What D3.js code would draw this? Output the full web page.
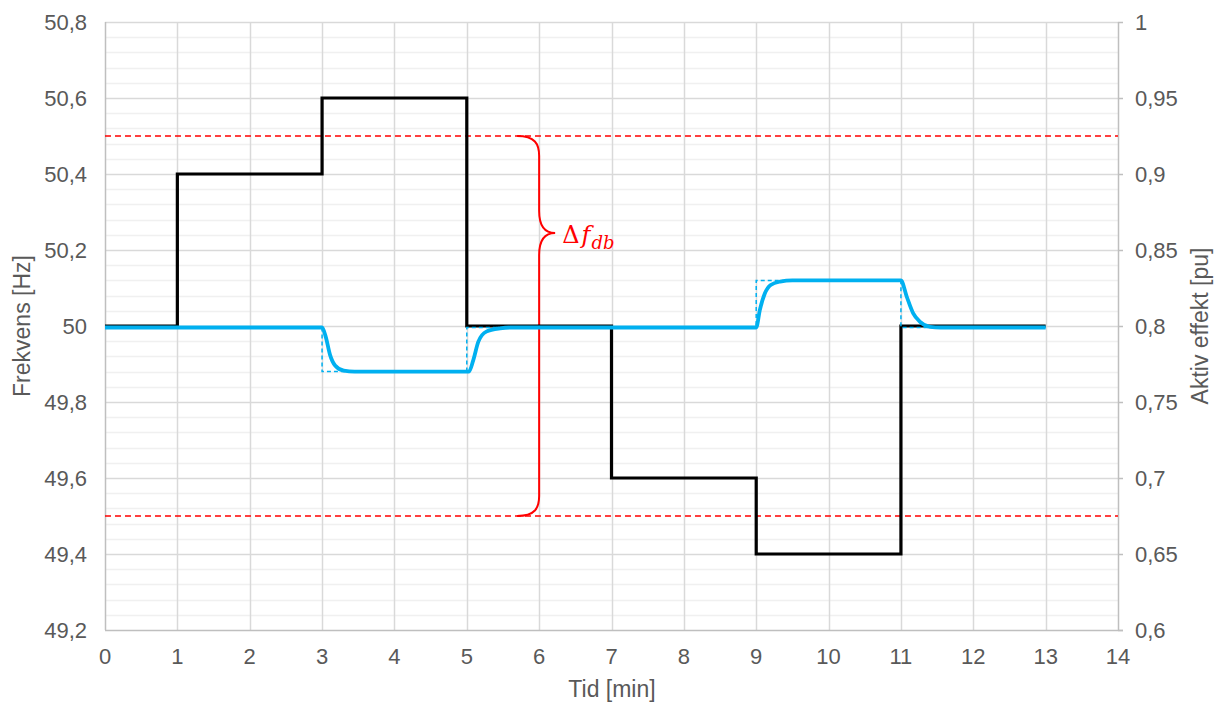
<!DOCTYPE html>
<html><head><meta charset="utf-8">
<script src="https://cdn.jsdelivr.net/npm/d3@7"></script>
<style>
html,body{margin:0;padding:0;background:#fff;}
svg{display:block;font-family:"Liberation Sans",Arial,sans-serif;}
</style></head>
<body>
<svg id="chart" width="1215" height="702"></svg>
<script>
// ---- data ----
const freqTime  = [0, 1, 3, 5, 7, 9, 11, 13];
const freqValue = [50, 50.4, 50.6, 50, 49.6, 49.4, 50, 50];

const refTime  = [0, 3, 5, 9, 11, 13];
const refPower = [0.799, 0.77, 0.799, 0.83, 0.799, 0.799];

const powTime  = [0, 3, 3.05, 3.11, 3.18, 3.3, 3.45, 5.03, 5.09, 5.16, 5.27, 5.46, 5.6,
                  9, 9.05, 9.12, 9.2, 9.33, 9.5, 11, 11.08, 11.17, 11.26, 11.4, 11.55, 13];
const powValue = [0.799, 0.799, 0.793, 0.781, 0.774, 0.7706, 0.77, 0.77, 0.7776, 0.7897, 0.7963, 0.7985, 0.799,
                  0.799, 0.8105, 0.8215, 0.827, 0.8292, 0.83, 0.83, 0.8193, 0.8083, 0.8029, 0.7995, 0.799, 0.799];

const deadband = [49.5, 50.5];
const xTicks = [0,1,2,3,4,5,6,7,8,9,10,11,12,13,14];
const leftTicks = [49.2, 49.4, 49.6, 49.8, 50, 50.2, 50.4, 50.6, 50.8];
const rightTicks = [0.6, 0.65, 0.7, 0.75, 0.8, 0.85, 0.9, 0.95, 1];
const braceX = 6, braceTipF = 50.245;
const labels = {x: "Tid [min]", yl: "Frekvens [Hz]", yr: "Aktiv effekt [pu]"};

// ---- layout ----
const L = 105, R = 1118, T = 22, B = 630;
const svg = d3.select("#chart");
const x = d3.scaleLinear().domain([0, 14]).range([L, R]);
const yL = d3.scaleLinear().domain([49.2, 50.8]).range([B, T]);
const yR = d3.scaleLinear().domain([0.6, 1]).range([B, T]);
const fmt = v => String(+v.toFixed(2)).replace(".", ",");
const tickColor = "#595959";

// minor gridlines
const minor = d3.range(0, 41).map(i => 49.2 + i * 0.04).filter((v, i) => i % 5 !== 0);
svg.append("g").selectAll("line").data(minor).join("line")
  .attr("x1", L).attr("x2", R)
  .attr("y1", d => Math.round(yL(d)) + 0.5).attr("y2", d => Math.round(yL(d)) + 0.5)
  .attr("stroke", "#f0f0f0").attr("stroke-width", 1.5);
// major horizontal
svg.append("g").selectAll("line").data(leftTicks.slice(1)).join("line")
  .attr("x1", L).attr("x2", R)
  .attr("y1", d => Math.round(yL(d)) + 0.5).attr("y2", d => Math.round(yL(d)) + 0.5)
  .attr("stroke", "#d9d9d9").attr("stroke-width", 1.5);
// vertical grid
svg.append("g").selectAll("line").data(xTicks.slice(1, -1)).join("line")
  .attr("x1", d => Math.round(x(d)) + 0.5).attr("x2", d => Math.round(x(d)) + 0.5)
  .attr("y1", T).attr("y2", B)
  .attr("stroke", "#d9d9d9").attr("stroke-width", 1.5);

// axes lines
const axisCol = "#bfbfbf";
svg.append("line").attr("x1", L + 0.5).attr("x2", L + 0.5).attr("y1", T).attr("y2", B).attr("stroke", axisCol).attr("stroke-width", 1.5);
svg.append("line").attr("x1", L).attr("x2", R + 5).attr("y1", B + 0.5).attr("y2", B + 0.5).attr("stroke", axisCol).attr("stroke-width", 1.5);
svg.append("line").attr("x1", R + 0.5).attr("x2", R + 0.5).attr("y1", T).attr("y2", B).attr("stroke", axisCol).attr("stroke-width", 1.5);
svg.append("g").selectAll("line").data(rightTicks).join("line")
  .attr("x1", R).attr("x2", R + 5)
  .attr("y1", d => Math.round(yR(d)) + 0.5).attr("y2", d => Math.round(yR(d)) + 0.5)
  .attr("stroke", axisCol).attr("stroke-width", 1.5);

// tick labels
svg.append("g").selectAll("text").data(leftTicks).join("text")
  .attr("x", 87).attr("y", d => yL(d)).attr("dy", "0.35em")
  .attr("text-anchor", "end").attr("font-size", 22).attr("fill", tickColor)
  .text(fmt);
svg.append("g").selectAll("text").data(rightTicks).join("text")
  .attr("x", 1135).attr("y", d => yR(d)).attr("dy", "0.35em")
  .attr("text-anchor", "start").attr("font-size", 22).attr("fill", tickColor)
  .text(fmt);
svg.append("g").selectAll("text").data(xTicks).join("text")
  .attr("x", d => x(d)).attr("y", 664)
  .attr("text-anchor", "middle").attr("font-size", 22).attr("fill", tickColor)
  .text(d => d);

// axis titles
svg.append("text").attr("x", 612).attr("y", 697).attr("text-anchor", "middle")
  .attr("font-size", 23).attr("fill", tickColor).text(labels.x);
svg.append("text").attr("transform", "translate(30,326) rotate(-90)").attr("text-anchor", "middle")
  .attr("font-size", 23).attr("fill", tickColor).text(labels.yl);
svg.append("text").attr("transform", "translate(1208,326) rotate(-90)").attr("text-anchor", "middle")
  .attr("font-size", 23).attr("fill", tickColor).text(labels.yr);

// deadband lines
svg.append("g").selectAll("line").data(deadband).join("line")
  .attr("x1", L).attr("x2", R)
  .attr("y1", d => yL(d)).attr("y2", d => yL(d))
  .attr("stroke", "#ff0000").attr("stroke-width", 1.6).attr("stroke-dasharray", "6,4");

// brace
const bx = x(braceX), yt = yL(deadband[1]), yb = yL(deadband[0]), ym = yL(braceTipF);
const bw = 22;
const bp = d3.path();
bp.moveTo(bx - bw, yt);
bp.bezierCurveTo(bx - 4, yt, bx, yt + 8, bx, yt + 20);
bp.lineTo(bx, ym - 22);
bp.bezierCurveTo(bx, ym - 6, bx + 6, ym, bx + 16, ym);
bp.bezierCurveTo(bx + 6, ym, bx, ym + 6, bx, ym + 22);
bp.lineTo(bx, yb - 20);
bp.bezierCurveTo(bx, yb - 8, bx - 4, yb, bx - bw, yb);
svg.append("path").attr("d", bp.toString()).attr("fill", "none")
  .attr("stroke", "#ff0000").attr("stroke-width", 2);

const lab = svg.append("text").attr("x", bx + 23).attr("y", ym + 10)
  .attr("fill", "#ff0000").attr("font-family", "'DejaVu Serif','Liberation Serif',serif").attr("font-size", 24);
lab.append("tspan").text("Δ");
lab.append("tspan").attr("font-style", "italic").attr("dx", 2).text("f");
lab.append("tspan").attr("font-style", "italic").attr("font-size", 18).attr("dy", 6).attr("dx", 1).text("db");

// black frequency line
const freqData = freqTime.map((t, i) => [t, freqValue[i]]);
svg.append("path").datum(freqData)
  .attr("d", d3.line().x(d => x(d[0])).y(d => yL(d[1])).curve(d3.curveStepAfter))
  .attr("fill", "none").attr("stroke", "#000").attr("stroke-width", 3.2);

// dashed reference power
const refData = refTime.map((t, i) => [t, refPower[i]]);
svg.append("path").datum(refData)
  .attr("d", d3.line().x(d => x(d[0])).y(d => yR(d[1])).curve(d3.curveStepAfter))
  .attr("fill", "none").attr("stroke", "#00b0f0").attr("stroke-width", 1.5).attr("stroke-dasharray", "4,3");

// solid power
const powData = powTime.map((t, i) => [t, powValue[i]]);
svg.append("path").datum(powData)
  .attr("d", d3.line().x(d => x(d[0])).y(d => yR(d[1])).curve(d3.curveMonotoneX))
  .attr("fill", "none").attr("stroke", "#00b0f0").attr("stroke-width", 3.8).attr("stroke-linejoin", "round");
</script>
</body></html>
